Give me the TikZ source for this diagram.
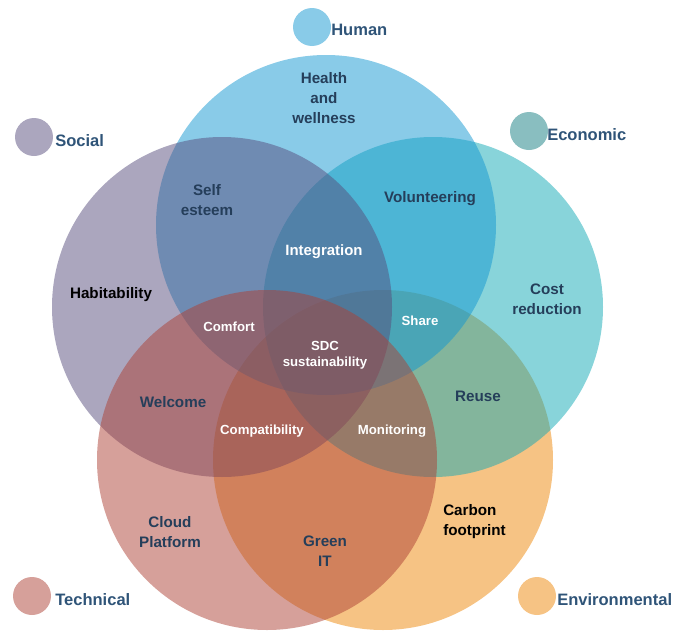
\documentclass[tikz,border=0pt]{standalone}
\usepackage{fontspec}
\setmainfont{Liberation Sans}
\definecolor{hum}{RGB}{19,151,209}
\definecolor{soc}{RGB}{87,77,125}
\definecolor{eco}{RGB}{17,169,181}
\definecolor{tec}{RGB}{173,65,53}
\definecolor{env}{RGB}{237,135,9}
\definecolor{humdot}{RGB}{137,203,232}
\definecolor{socdot}{RGB}{171,166,190}
\definecolor{ecodot}{RGB}{137,190,192}
\definecolor{tecdot}{RGB}{214,160,154}
\definecolor{envdot}{RGB}{246,195,132}
\definecolor{legtxt}{RGB}{47,84,120}
\definecolor{lbltxt}{RGB}{37,62,90}
\tikzset{
  setcircle/.style={fill opacity=0.5},
  legdot/.style={circle, minimum size=28.5pt, inner sep=0pt},
  legtext/.style={anchor=west, inner sep=0pt, text=legtxt, font=\fontsize{12.4}{15}\selectfont\bfseries},
  mainlbl/.style={align=center, inner sep=0pt, text=lbltxt, font=\fontsize{11.4}{15}\selectfont\bfseries},
  blacklbl/.style={mainlbl, text=black},
  innerlbl/.style={align=center, inner sep=0pt, text=white, font=\fontsize{9.9}{12}\selectfont\bfseries}
}
\begin{document}
\begin{tikzpicture}[x=0.75pt,y=-0.75pt]
\useasboundingbox (0,0) rectangle (686,632);
% circles, bottom to top
\fill[env,setcircle] (383,460) circle[radius=127.5pt];
\fill[eco,setcircle] (433,307) circle[radius=127.5pt];
\fill[hum,setcircle] (326,225) circle[radius=127.5pt];
\fill[soc,setcircle] (222,307) circle[radius=127.5pt];
\fill[tec,setcircle] (267,460) circle[radius=127.5pt];
% legend
\node[legdot, fill=humdot] (dhum) at (312,27) {};
\node[legtext] (thum) at (331,30) {Human};
\node[legdot, fill=socdot] (dsoc) at (34,137) {};
\node[legtext] (tsoc) at (55,141) {Social};
\node[legdot, fill=ecodot] (deco) at (529,131) {};
\node[legtext] (teco) at (547,135) {Economic};
\node[legdot, fill=tecdot] (dtec) at (32,596) {};
\node[legtext] (ttec) at (55,600) {Technical};
\node[legdot, fill=envdot] (denv) at (537,596) {};
\node[legtext] (tenv) at (557,600) {Environmental};
% region labels
\node[mainlbl] (health) at (324,98) {Health\\and\\wellness};
\node[mainlbl] (self) at (207,200) {Self\\esteem};
\node[mainlbl] (volunt) at (430,199) {Volunteering};
\node[innerlbl, font=\fontsize{11.2}{13}\selectfont\bfseries] (integ) at (324,252) {Integration};
\node[blacklbl] (habit) at (111,295) {Habitability};
\node[mainlbl] (cost) at (547,299) {Cost\\reduction};
\node[innerlbl] (comfort) at (229,327) {Comfort};
\node[innerlbl] (share) at (420,321) {Share};
\node[innerlbl] (sdc) at (325,355) {SDC\\sustainability};
\node[mainlbl] (welcome) at (173,402) {Welcome};
\node[mainlbl] (reuse) at (478,396) {Reuse};
\node[innerlbl] (compat) at (262,431) {Compatibility};
\node[innerlbl] (monit) at (392,431) {Monitoring};
\node[mainlbl] (cloud) at (170,532) {Cloud\\Platform};
\node[mainlbl] (green) at (325,551) {Green\\IT};
\node[blacklbl, align=left, anchor=west] (carbon) at (443,522) {Carbon\\footprint};
\end{tikzpicture}
\end{document}
